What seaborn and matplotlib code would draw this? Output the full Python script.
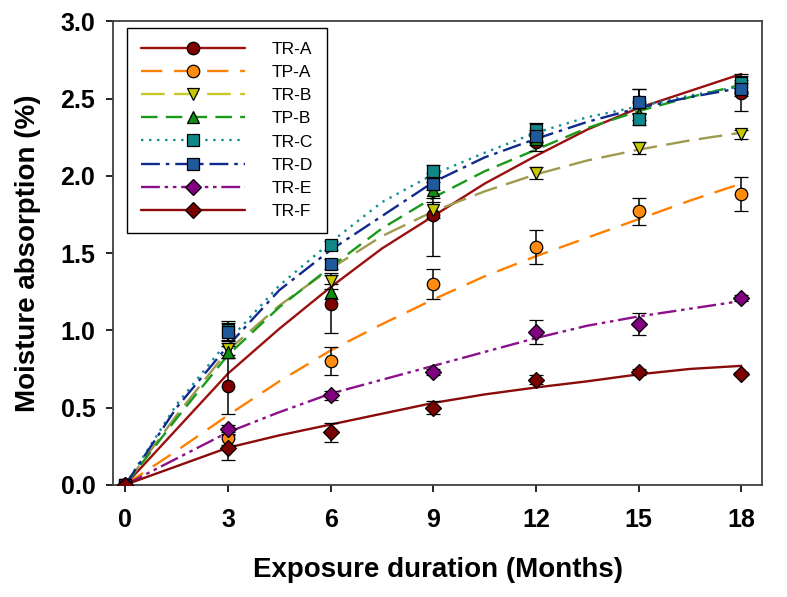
import seaborn as sns
import matplotlib.pyplot as plt
from matplotlib.lines import Line2D
import numpy as np

# measured points (months)
months = [0, 3, 6, 9, 12, 15, 18]

tr_a = [0, 0.64, 1.17, 1.75, 2.22, 2.48, 2.54]
tp_a = [0, 0.30, 0.80, 1.30, 1.54, 1.77, 1.88]
tr_b = [0, 0.88, 1.32, 1.78, 2.02, 2.18, 2.27]
tp_b = [0, 0.86, 1.25, 1.91, 2.24, 2.40, 2.58]
tr_c = [0, 1.00, 1.55, 2.03, 2.30, 2.37, 2.60]
tr_d = [0, 0.99, 1.43, 1.95, 2.26, 2.48, 2.56]
tr_e = [0, 0.36, 0.58, 0.73, 0.99, 1.04, 1.21]
tr_f = [0, 0.24, 0.34, 0.50, 0.68, 0.73, 0.72]

tr_a_err = [0, 0.18, 0.19, 0.27, 0.06, 0.08, 0.12]
tp_a_err = [0, 0.04, 0.09, 0.10, 0.11, 0.085, 0.11]
tr_b_err = [0, 0.04, 0.05, 0.05, 0.04, 0.04, 0.03]
tp_b_err = [0, 0.04, 0.05, 0.05, 0.04, 0.04, 0.04]
tr_c_err = [0, 0.06, 0.03, 0.04, 0.04, 0.04, 0.05]
tr_d_err = [0, 0.06, 0.03, 0.04, 0.04, 0.08, 0.04]
tr_e_err = [0, 0.03, 0.03, 0.02, 0.08, 0.07, 0.02]
tr_f_err = [0, 0.08, 0.06, 0.04, 0.03, 0.02, 0.01]

# fitted curves
fit_months = [0, 1.5, 3, 4.5, 6, 7.5, 9, 10.5, 12, 13.5, 15, 16.5, 18]
tr_a_fit = [0, 0.36, 0.72, 1.01, 1.28, 1.53, 1.74, 1.95, 2.13, 2.30, 2.44, 2.55, 2.66]
tp_a_fit = [0, 0.22, 0.45, 0.67, 0.87, 1.04, 1.20, 1.35, 1.48, 1.60, 1.72, 1.84, 1.95]
tr_b_fit = [0, 0.45, 0.87, 1.16, 1.40, 1.61, 1.77, 1.90, 2.01, 2.10, 2.17, 2.23, 2.28]
tp_b_fit = [0, 0.43, 0.84, 1.15, 1.41, 1.66, 1.86, 2.03, 2.17, 2.31, 2.42, 2.51, 2.59]
tr_c_fit = [0, 0.52, 0.93, 1.29, 1.57, 1.83, 2.01, 2.15, 2.28, 2.38, 2.45, 2.52, 2.58]
tr_d_fit = [0, 0.50, 0.90, 1.26, 1.52, 1.74, 1.96, 2.12, 2.24, 2.35, 2.44, 2.51, 2.57]
tr_e_fit = [0, 0.17, 0.34, 0.47, 0.59, 0.68, 0.77, 0.86, 0.95, 1.03, 1.09, 1.14, 1.19]
tr_f_fit = [0, 0.12, 0.24, 0.32, 0.39, 0.46, 0.53, 0.585, 0.63, 0.67, 0.715, 0.75, 0.77]

labels = ['TR-A', 'TP-A', 'TR-B', 'TP-B', 'TR-C', 'TR-D', 'TR-E', 'TR-F']
points = [tr_a, tp_a, tr_b, tp_b, tr_c, tr_d, tr_e, tr_f]
errors = [tr_a_err, tp_a_err, tr_b_err, tp_b_err, tr_c_err, tr_d_err, tr_e_err, tr_f_err]
fits = [tr_a_fit, tp_a_fit, tr_b_fit, tp_b_fit, tr_c_fit, tr_d_fit, tr_e_fit, tr_f_fit]

line_colors = ['#9b0f0f', '#ff8000', '#a09a50', '#1a9a1a', '#109090', '#102a8c', '#8c108c', '#8b0a0a']
legend_line_colors = ['#9b0f0f', '#ff8000', '#c8c828', '#1a9a1a', '#109090', '#102a8c', '#8c108c', '#8b0a0a']
face_colors = ['#800000', '#ff8c10', '#c8c800', '#109010', '#108888', '#1f5a9c', '#800080', '#7a0000']
markers = ['o', 'o', 'v', '^', 's', 's', 'D', 'D']
msizes = [9, 9, 9, 8.5, 8.5, 8.5, 8, 8]
styles = ['-', (0, (9, 5)), (0, (10, 4)), (0, (7, 3.5)), (0, (1, 2.4)),
          (0, (8, 2.5, 1.5, 2.5)), (0, (8, 2, 1.5, 2, 1.5, 2)), '-']

sns.set_style('white')
plt.rcParams['font.family'] = ['Liberation Sans', 'DejaVu Sans']
plt.rcParams['text.color'] = 'black'
plt.rcParams['axes.labelcolor'] = 'black'
plt.rcParams['xtick.color'] = 'black'
plt.rcParams['ytick.color'] = 'black'

fig, ax = plt.subplots(figsize=(7.87, 5.97), dpi=100)
fig.subplots_adjust(left=0.144, right=0.968, top=0.964, bottom=0.188)

for i in range(len(labels)):
    sns.lineplot(x=fit_months, y=fits[i], ax=ax, color=line_colors[i],
                 linestyle=styles[i], linewidth=1.7, legend=False, zorder=2)

for i in range(len(labels)):
    ax.errorbar(months, points[i], yerr=errors[i], fmt=markers[i], ms=msizes[i],
                mfc=face_colors[i], mec='black', mew=0.9, ecolor='black',
                elinewidth=1.1, capsize=5, capthick=1.1, zorder=3)

handles = [Line2D([], [], color=legend_line_colors[i], linestyle=styles[i], linewidth=1.7,
                  marker=markers[i], ms=msizes[i], mfc=face_colors[i], mec='black', mew=0.9)
           for i in range(len(labels))]
leg = ax.legend(handles, labels, loc='upper left', bbox_to_anchor=(0.0207, 0.986),
                borderaxespad=0, handlelength=6.0, handletextpad=1.55, labelspacing=0.46,
                numpoints=1, fancybox=False, framealpha=1, edgecolor='black',
                borderpad=0.8, prop={'family': ['Liberation Sans', 'DejaVu Sans'], 'size': 12.5})
leg.get_frame().set_linewidth(1.0)

ax.set_xlim(-0.35, 18.6)
ax.set_ylim(0, 3.0)
ax.set_xticks(months)
ax.set_yticks(np.arange(0, 3.01, 0.5))
ax.set_yticklabels(['0.0', '0.5', '1.0', '1.5', '2.0', '2.5', '3.0'])
ax.tick_params(axis='both', which='major', direction='out', length=5, width=1.2,
               labelsize=18, bottom=True, left=True, top=False, right=False)
ax.tick_params(axis='x', pad=12)
ax.tick_params(axis='y', pad=8)
for lab in ax.get_xticklabels() + ax.get_yticklabels():
    lab.set_fontweight('bold')
for sp in ax.spines.values():
    sp.set_color('#404040')
    sp.set_linewidth(1.3)

ax.set_xlabel('Exposure duration (Months)', fontsize=20, fontweight='bold', labelpad=18)
ax.set_ylabel('Moisture absorption (%)', fontsize=20, fontweight='bold', labelpad=14)

fig.savefig('out.png', dpi=100)
